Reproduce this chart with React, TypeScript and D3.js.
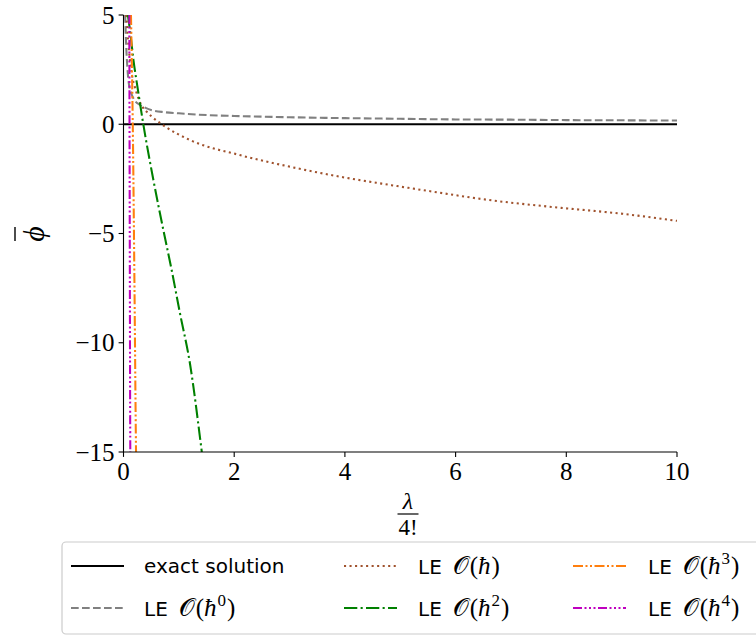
import React from "react";
import * as d3 from "d3";

// ---- data ----
const xTicks = [0, 2, 4, 6, 8, 10];
const yTicks = [5, 0, -5, -10, -15];

const exactLam = [0, 10];
const exactPhi = [0, 0];

const le0Lam = [0.03, 0.05, 0.07, 0.1, 0.15, 0.2, 0.3, 0.4, 0.5, 0.75, 1.0, 1.5, 2, 3, 4, 5, 6, 7, 8, 9, 10];
const le0Phi = [5, 3.5, 2.6, 1.8, 1.35, 1.1, 0.88, 0.75, 0.65, 0.55, 0.5, 0.42, 0.38, 0.32, 0.28, 0.25, 0.22, 0.21, 0.19, 0.18, 0.17];

const le1Lam = [0.05, 0.087, 0.15, 0.21, 0.33, 0.42, 0.51, 0.69, 1.2, 2.1, 3.0, 3.91, 4.82, 5.5, 6.58, 7.8, 9.02, 10];
const le1Phi = [5, 3.7, 2.3, 1.66, 0.85, 0.57, 0.35, 0, -0.72, -1.41, -1.94, -2.4, -2.78, -3.05, -3.46, -3.8, -4.1, -4.42];

const le2Lam = [0.08, 0.117, 0.18, 0.27, 0.36, 0.54, 0.72, 0.87, 1.02, 1.2, 1.41, 1.43];
const le2Phi = [5, 4.3, 2.94, 1.42, -0.03, -2.55, -4.84, -6.67, -8.65, -10.94, -14.9, -15.3];

const le3Lam = [0.135, 0.171, 0.199, 0.226, 0.228];
const le3Phi = [5, -0.72, -7.6, -14.9, -15.3];

const le4Lam = [0.105, 0.113, 0.123, 0.124];
const le4Phi = [5, -5, -15, -15.3];

const W = 756;
const H = 636;
const L = 123.5, R = 677, T = 15, B = 452;

type S = { lam: number[]; phi: number[]; color: string; dash: string; label: string; sup: string | null; exact?: boolean };

const series: S[] = [
  { lam: exactLam, phi: exactPhi, color: "#000000", dash: "", label: "exact solution", sup: null, exact: true },
  { lam: le0Lam, phi: le0Phi, color: "#808080", dash: "7.7 3.3", label: "LE", sup: "0" },
  { lam: le1Lam, phi: le1Phi, color: "#a0522d", dash: "2.08 3.44", label: "LE", sup: "" },
  { lam: le2Lam, phi: le2Phi, color: "#008000", dash: "13.3 3.3 2.1 3.3", label: "LE", sup: "2" },
  { lam: le3Lam, phi: le3Phi, color: "#ff7f0e", dash: "10 2.5 2 2.5 2 2.5", label: "LE", sup: "3" },
  { lam: le4Lam, phi: le4Phi, color: "#bf00bf", dash: "9 2.5 2 2.5 2 2.5 2 2.5", label: "LE", sup: "4" },
];

const legendPos = [
  { hx: 71, tx: 144, y: 566 },
  { hx: 71, tx: 144, y: 608 },
  { hx: 344, tx: 418, y: 566 },
  { hx: 344, tx: 418, y: 608 },
  { hx: 573, tx: 648, y: 566 },
  { hx: 573, tx: 648, y: 608 },
];

export default function App() {
  const x = d3.scaleLinear().domain([0, 10]).range([L, R]);
  const y = d3.scaleLinear().domain([-15, 5]).range([B, T]);
  const serif = "'Liberation Serif', 'DejaVu Serif', serif";
  const sans = "'DejaVu Sans', sans-serif";

  const mkLine = (s: S) =>
    d3
      .line<number>()
      .x((_, i) => x(s.lam[i]))
      .y((_, i) => y(s.phi[i]))
      .curve(d3.curveMonotoneX)(s.lam.map((_, i) => i)) || "";

  return (
    <svg width={W} height={H} style={{ position: "absolute", left: 0, top: 0, background: "#fff" }}>
      <defs>
        <clipPath id="plotclip">
          <rect x={L} y={T} width={R - L} height={B - T} />
        </clipPath>
      </defs>
      <g clipPath="url(#plotclip)">
        {series.map((s, i) => (
          <path key={i} d={mkLine(s)} fill="none" stroke={s.color} strokeWidth={2.08} strokeDasharray={s.dash || undefined} />
        ))}
      </g>
      {/* spines */}
      <line x1={L} x2={L} y1={T} y2={B} stroke="#000" strokeWidth={1.1} />
      <line x1={L} x2={R} y1={B} y2={B} stroke="#000" strokeWidth={1.1} />
      {/* x ticks */}
      {xTicks.map((t) => (
        <g key={"x" + t}>
          <line x1={x(t)} x2={x(t)} y1={B} y2={B + 4.9} stroke="#000" strokeWidth={1.1} />
          <text x={x(t)} y={B + 28} textAnchor="middle" fontFamily={serif} fontSize={25}>
            {t}
          </text>
        </g>
      ))}
      {/* y ticks */}
      {yTicks.map((t) => (
        <g key={"y" + t}>
          <line x1={L - 4.9} x2={L} y1={y(t)} y2={y(t)} stroke="#000" strokeWidth={1.1} />
          <text x={L - 9} y={y(t) + 8.5} textAnchor="end" fontFamily={serif} fontSize={25}>
            {t < 0 ? "\u2212" + Math.abs(t) : String(t)}
          </text>
        </g>
      ))}
      {/* x label: lambda / 4! */}
      <g transform="translate(408,0)">
        <text x={0} y={509} textAnchor="middle" fontFamily={serif} fontStyle="italic" fontSize={24}>
          λ
        </text>
        <line x1={-10.5} x2={10.5} y1={514} y2={514} stroke="#000" strokeWidth={1.2} />
        <text x={0} y={535} textAnchor="middle" fontFamily={serif} fontSize={23}>
          4!
        </text>
      </g>
      {/* y label: phi bar */}
      <g transform="translate(44,234) rotate(-90)">
        <text x={0} y={0} textAnchor="middle" fontFamily={serif} fontStyle="italic" fontSize={30}>
          ϕ
        </text>
        <line x1={-7} x2={7} y1={-29} y2={-29} stroke="#000" strokeWidth={1.4} />
      </g>
      {/* legend */}
      <rect x={62} y={542} width={720} height={92} rx={4} fill="#fff" stroke="#cccccc" strokeWidth={1.2} />
      {series.map((s, i) => {
        const p = legendPos[i];
        return (
          <g key={"lg" + i}>
            <line x1={p.hx} x2={p.hx + 53} y1={p.y} y2={p.y} stroke={s.color} strokeWidth={2.08} strokeDasharray={s.dash || undefined} />
            {s.exact ? (
              <text x={p.tx} y={p.y + 7} fontFamily={sans} fontSize={20}>
                {s.label}
              </text>
            ) : (
              <text x={p.tx} y={p.y + 8} fontSize={20}>
                <tspan fontFamily={sans}>{s.label}</tspan>
                <tspan fontFamily={serif} fontSize={25} dx={11}>𝒪</tspan>
                <tspan fontFamily={serif} fontSize={25} dx={1}>(</tspan>
                <tspan fontFamily={serif} fontStyle="italic" fontSize={25}>ħ</tspan>
                {s.sup ? (
                  <tspan fontFamily={serif} fontSize={17} dy={-10} dx={1}>
                    {s.sup}
                  </tspan>
                ) : null}
                <tspan fontFamily={serif} fontSize={25} dy={s.sup ? 10 : 0} dx={1}>)</tspan>
              </text>
            )}
          </g>
        );
      })}
    </svg>
  );
}
